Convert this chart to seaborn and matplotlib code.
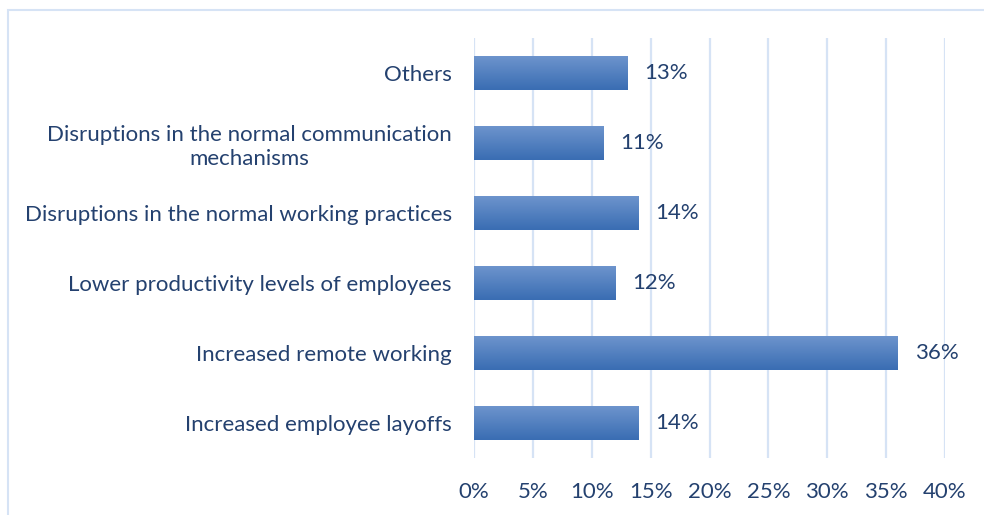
import numpy as np
import pandas as pd
import seaborn as sns
import matplotlib.pyplot as plt
from matplotlib.patches import Rectangle

categories = [
    "Others",
    "Disruptions in the normal communication\nmechanisms",
    "Disruptions in the normal working practices",
    "Lower productivity levels of employees",
    "Increased remote working",
    "Increased employee layoffs",
]
values = [13, 11, 14, 12, 36, 14]
ticks = [0, 5, 10, 15, 20, 25, 30, 35, 40]

df = pd.DataFrame({"category": categories, "value": values})

sns.set_theme(style="white")
plt.rcParams["font.family"] = ["Lato", "DejaVu Sans"]
text_color = "#24416F"
grid_color = "#D6E3F5"
fs = 16

fig = plt.figure(figsize=(9.84, 5.15), dpi=100)
ax = fig.add_axes([474 / 984, 1 - 458 / 515, (945 - 474) / 984, 420 / 515])

sns.barplot(data=df, x="value", y="category", orient="h", color="#4A7EC2",
            width=0.5, ax=ax, zorder=3)

# gradient fill on the bars, lighter at top
grad = np.linspace(0, 1, 100).reshape(-1, 1)
cmap = plt.matplotlib.colors.LinearSegmentedColormap.from_list("g", ["#6E95CD", "#3A6DB3"])
for p in ax.patches:
    x0, y0 = p.get_x(), p.get_y()
    w, h = p.get_width(), p.get_height()
    p.set_facecolor("none")
    p.set_edgecolor("none")
    im = ax.imshow(grad, cmap=cmap, aspect="auto", extent=[x0, x0 + w, y0 + h, y0],
                   zorder=3)
    im.set_clip_path(p)

ax.set_xlim(0, 40)
ax.set_ylim(5.5, -0.5)
ax.set_xticks(ticks)
ax.set_xticklabels([f"{t}%" for t in ticks])
ax.xaxis.grid(True, color=grid_color, linewidth=1.6, zorder=0)
ax.set_axisbelow(True)
for s in ax.spines.values():
    s.set_visible(False)
ax.set_xlabel("")
ax.set_ylabel("")
ax.tick_params(axis="x", length=0, pad=17, labelsize=fs, labelcolor=text_color)
ax.tick_params(axis="y", length=0, pad=16, labelsize=fs, labelcolor=text_color)
for lbl in ax.get_yticklabels():
    lbl.set_multialignment("center")
    lbl.set_linespacing(1.25)

for i, v in enumerate(values):
    ax.annotate(f"{v}%", (v, i), xytext=(12, 0), textcoords="offset points",
                va="center", ha="left", fontsize=fs, color=text_color)

fig.patches.append(Rectangle((8 / 984, -0.1), 1.2, 1 - 10 / 515 + 0.1,
                             transform=fig.transFigure, fill=False,
                             edgecolor=grid_color, linewidth=1.5))

fig.savefig("out.png", dpi=100)
